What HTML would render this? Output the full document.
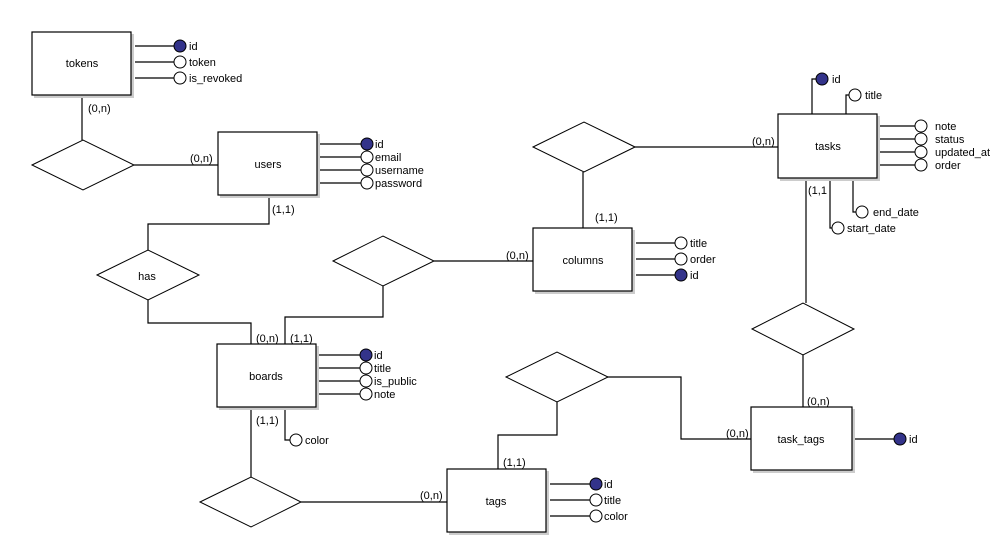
<!DOCTYPE html>
<html><head><meta charset="utf-8"><style>
html,body{margin:0;padding:0;background:#fff;}
svg{display:block;}
text{font-family:"Liberation Sans",sans-serif;font-size:11px;fill:#000;}
</style></head><body>
<svg width="1003" height="540" viewBox="0 0 1003 540" xmlns="http://www.w3.org/2000/svg">
<g fill="none" stroke="#000" stroke-width="1.2">
<polyline points="82,95 82,140"/>
<polyline points="134,165 218,165"/>
<polyline points="269,195 269,224 148,224 148,250"/>
<polyline points="148,300 148,323 251,323 251,344"/>
<polyline points="285,344 285,317 383,317 383,286"/>
<polyline points="434,261 533,261"/>
<polyline points="583,228 583,172"/>
<polyline points="635,147 778,147"/>
<polyline points="806,178 806,303"/>
<polyline points="803,355 803,407"/>
<polyline points="607,377 681,377 681,439 751,439"/>
<polyline points="557,402 557,435 498,435 498,469"/>
<polyline points="251,407 251,477"/>
<polyline points="301,502 447,502"/>
<polyline points="285,407 285,440 290,440"/>
<polyline points="852,439 894,439"/>
<polyline points="135,46 174,46"/><polyline points="135,62 174,62"/><polyline points="135,78 174,78"/>
<polyline points="320,144 361,144"/><polyline points="320,157 361,157"/><polyline points="320,170 361,170"/><polyline points="320,183 361,183"/>
<polyline points="319,355 360,355"/><polyline points="319,368 360,368"/><polyline points="319,381 360,381"/><polyline points="319,394 360,394"/>
<polyline points="636,243 675,243"/><polyline points="636,259 675,259"/><polyline points="636,275 675,275"/>
<polyline points="550,484 590,484"/><polyline points="550,500 590,500"/><polyline points="550,516 590,516"/>
<polyline points="880,126 915,126"/><polyline points="880,139 915,139"/><polyline points="880,152 915,152"/><polyline points="880,165 915,165"/>
<polyline points="812,114 812,79 816,79"/>
<polyline points="846,114 846,95 849,95"/>
<polyline points="853,178 853,212 856,212"/>
<polyline points="830,178 830,228 832,228"/>
</g>
<g fill="#fff" stroke="#000" stroke-width="1">
<polygon points="32,165 83,140 134,165 83,190"/>
<polygon points="97,275 148,250 199,275 148,300"/>
<polygon points="333,261 383,236 434,261 383,286"/>
<polygon points="533,147 584,122 635,147 584,172"/>
<polygon points="752,329 803,303 854,329 803,355"/>
<polygon points="506,377 557,352 608,377 557,402"/>
<polygon points="200,502 251,477 301,502 251,527"/>
</g>
<g fill="#ccc">
<rect x="34" y="34" width="100" height="64"/>
<rect x="220" y="134" width="100" height="64"/>
<rect x="535" y="230" width="100" height="64"/>
<rect x="780" y="116" width="100" height="65"/>
<rect x="219" y="346" width="100" height="64"/>
<rect x="449" y="471" width="100" height="64"/>
<rect x="753" y="409" width="102" height="64"/>
</g>
<g fill="#fff" stroke="#000" stroke-width="1.2">
<rect x="32" y="32" width="99" height="63"/>
<rect x="218" y="132" width="99" height="63"/>
<rect x="533" y="228" width="99" height="63"/>
<rect x="778" y="114" width="99" height="64"/>
<rect x="217" y="344" width="99" height="63"/>
<rect x="447" y="469" width="99" height="63"/>
<rect x="751" y="407" width="101" height="63"/>
</g>
<g stroke="#000" stroke-width="1">
<g fill="#33338a">
<circle cx="180" cy="46" r="6"/><circle cx="367" cy="144" r="6"/><circle cx="366" cy="355" r="6"/>
<circle cx="681" cy="275" r="6"/><circle cx="596" cy="484" r="6"/><circle cx="822" cy="79" r="6"/>
<circle cx="900" cy="439" r="6"/>
</g>
<g fill="#fff">
<circle cx="180" cy="62" r="6"/><circle cx="180" cy="78" r="6"/>
<circle cx="367" cy="157" r="6"/><circle cx="367" cy="170" r="6"/><circle cx="367" cy="183" r="6"/>
<circle cx="366" cy="368" r="6"/><circle cx="366" cy="381" r="6"/><circle cx="366" cy="394" r="6"/>
<circle cx="681" cy="243" r="6"/><circle cx="681" cy="259" r="6"/>
<circle cx="596" cy="500" r="6"/><circle cx="596" cy="516" r="6"/>
<circle cx="921" cy="126" r="6"/><circle cx="921" cy="139" r="6"/><circle cx="921" cy="152" r="6"/><circle cx="921" cy="165" r="6"/>
<circle cx="855" cy="95" r="6"/><circle cx="862" cy="212" r="6"/><circle cx="838" cy="228" r="6"/>
<circle cx="296" cy="440" r="6"/>
</g>
</g>
<g text-anchor="middle">
<text x="82" y="67">tokens</text>
<text x="268" y="168">users</text>
<text x="583" y="264">columns</text>
<text x="828" y="150">tasks</text>
<text x="266" y="380">boards</text>
<text x="496" y="505">tags</text>
<text x="801" y="443">task_tags</text>
<text x="147" y="280">has</text>
</g>
<text x="189" y="50">id</text><text x="189" y="66">token</text><text x="189" y="82">is_revoked</text>
<text x="375" y="148">id</text><text x="375" y="161">email</text><text x="375" y="174">username</text><text x="375" y="187">password</text>
<text x="374" y="359">id</text><text x="374" y="372">title</text><text x="374" y="385">is_public</text><text x="374" y="398">note</text>
<text x="690" y="247">title</text><text x="690" y="263">order</text><text x="690" y="279">id</text>
<text x="604" y="488">id</text><text x="604" y="504">title</text><text x="604" y="520">color</text>
<text x="935" y="130">note</text><text x="935" y="143">status</text><text x="935" y="156">updated_at</text><text x="935" y="169">order</text>
<text x="832" y="83">id</text><text x="865" y="99">title</text><text x="873" y="216">end_date</text><text x="847" y="232">start_date</text>
<text x="305" y="444">color</text><text x="909" y="443">id</text>
<text x="88" y="112">(0,n)</text>
<text x="190" y="162">(0,n)</text>
<text x="272" y="213">(1,1)</text>
<text x="256" y="342">(0,n)</text>
<text x="290" y="342">(1,1)</text>
<text x="506" y="259">(0,n)</text>
<text x="595" y="221">(1,1)</text>
<text x="752" y="145">(0,n)</text>
<text x="808" y="194">(1,1</text>
<text x="807" y="405">(0,n)</text>
<text x="726" y="437">(0,n)</text>
<text x="503" y="466">(1,1)</text>
<text x="256" y="424">(1,1)</text>
<text x="420" y="499">(0,n)</text>
</svg>
</body></html>
